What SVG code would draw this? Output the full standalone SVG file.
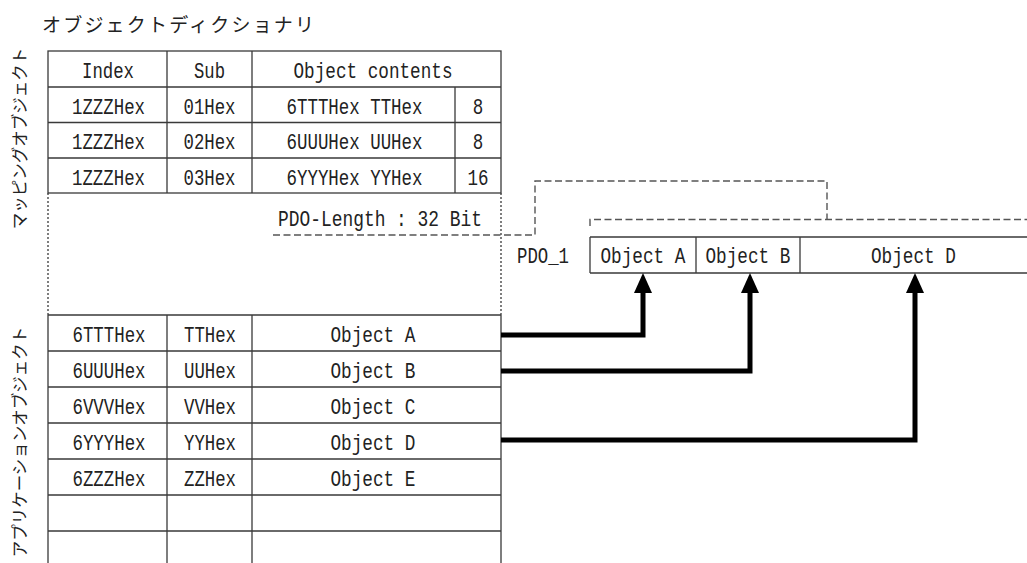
<svg xmlns="http://www.w3.org/2000/svg" width="1027" height="563" viewBox="0 0 1027 563">
  <style>
    .bg { fill: #ffffff; }
    .grid { stroke: #3a3a3a; stroke-width: 1.3; fill: none; }
    .dot { stroke: #3a3a3a; stroke-width: 1.3; fill: none; stroke-dasharray: 2 2; }
    .dash { stroke: #555555; stroke-width: 1.4; fill: none; stroke-dasharray: 7 3.5; }
    .t { font-family: "Liberation Mono", "DejaVu Sans Mono", monospace; font-size: 22px; fill: #222222; text-anchor: middle; }
    .ts { font-family: "Liberation Mono", "DejaVu Sans Mono", monospace; font-size: 22px; fill: #222222; }
    .jp { font-family: "Noto Sans CJK JP", "Noto Sans", sans-serif; fill: #222222; }
    .title { font-size: 19px; letter-spacing: 2.2px; }
    .vlab { font-size: 16.5px; letter-spacing: 0px; text-anchor: middle; }
    .conn { stroke: #000000; stroke-width: 5; fill: none; stroke-linejoin: miter; }
  </style>
  <defs>
    <marker id="arrow" viewBox="0 0 20 18" refX="2" refY="9" markerWidth="20" markerHeight="18" markerUnits="userSpaceOnUse" orient="auto">
      <path d="M0,0 L20,9 L0,18 Z" fill="#000000"/>
    </marker>
  </defs>
  <rect class="bg" x="0" y="0" width="1027" height="563"/>

  <g id="title">
    <text class="jp title" x="42" y="31.5">オブジェクトディクショナリ</text>
  </g>

  <g id="label-mapping">
    <text class="jp vlab" transform="translate(25.5,138.5) rotate(-90)">マッピングオブジェクト</text>
  </g>
  <g id="label-application">
    <text class="jp vlab" transform="translate(25.5,442) rotate(-90)">アプリケーションオブジェクト</text>
  </g>

  <g id="mapping-table">
    <rect class="grid" x="48" y="51" width="453" height="142"/>
    <path class="grid" d="M48,87 H501 M48,122.5 H501 M48,158 H501 M167,51 V193 M252,51 V193 M455,87 V193"/>
    <text class="t" x="108" y="77.5" textLength="52" lengthAdjust="spacingAndGlyphs">Index</text>
    <text class="t" x="209.5" y="77.5" textLength="31" lengthAdjust="spacingAndGlyphs">Sub</text>
    <text class="t" x="373" y="77.5" textLength="159" lengthAdjust="spacingAndGlyphs">Object contents</text>
    <text class="t" x="108.5" y="113.5" textLength="73" lengthAdjust="spacingAndGlyphs">1ZZZHex</text>
    <text class="t" x="209.5" y="113.5" textLength="52" lengthAdjust="spacingAndGlyphs">01Hex</text>
    <text class="t" x="354.5" y="113.5" textLength="136" lengthAdjust="spacingAndGlyphs">6TTTHex TTHex</text>
    <text class="t" x="478" y="113.5" textLength="10.5" lengthAdjust="spacingAndGlyphs">8</text>
    <text class="t" x="108.5" y="149" textLength="73" lengthAdjust="spacingAndGlyphs">1ZZZHex</text>
    <text class="t" x="209.5" y="149" textLength="52" lengthAdjust="spacingAndGlyphs">02Hex</text>
    <text class="t" x="354.5" y="149" textLength="136" lengthAdjust="spacingAndGlyphs">6UUUHex UUHex</text>
    <text class="t" x="478" y="149" textLength="10.5" lengthAdjust="spacingAndGlyphs">8</text>
    <text class="t" x="108.5" y="184.5" textLength="73" lengthAdjust="spacingAndGlyphs">1ZZZHex</text>
    <text class="t" x="209.5" y="184.5" textLength="52" lengthAdjust="spacingAndGlyphs">03Hex</text>
    <text class="t" x="354.5" y="184.5" textLength="136" lengthAdjust="spacingAndGlyphs">6YYYHex YYHex</text>
    <text class="t" x="478" y="184.5" textLength="21" lengthAdjust="spacingAndGlyphs">16</text>
  </g>

  <g id="mapping-gap">
    <path class="dot" d="M48,193 V315 M501,193 V315"/>
    <text class="ts" x="278" y="226" textLength="204" lengthAdjust="spacingAndGlyphs">PDO-Length : 32 Bit</text>
  </g>

  <g id="application-table">
    <path class="grid" d="M48,315 H501 M48,351 H501 M48,387 H501 M48,423 H501 M48,459 H501 M48,495 H501 M48,531 H501 M48,315 V563 M167,315 V563 M252,315 V563 M501,315 V563"/>
    <text class="t" x="109" y="342" textLength="73" lengthAdjust="spacingAndGlyphs">6TTTHex</text>
    <text class="t" x="210" y="342" textLength="52" lengthAdjust="spacingAndGlyphs">TTHex</text>
    <text class="t" x="373" y="342" textLength="85" lengthAdjust="spacingAndGlyphs">Object A</text>
    <text class="t" x="109" y="378" textLength="73" lengthAdjust="spacingAndGlyphs">6UUUHex</text>
    <text class="t" x="210" y="378" textLength="52" lengthAdjust="spacingAndGlyphs">UUHex</text>
    <text class="t" x="373" y="378" textLength="85" lengthAdjust="spacingAndGlyphs">Object B</text>
    <text class="t" x="109" y="414" textLength="73" lengthAdjust="spacingAndGlyphs">6VVVHex</text>
    <text class="t" x="210" y="414" textLength="52" lengthAdjust="spacingAndGlyphs">VVHex</text>
    <text class="t" x="373" y="414" textLength="85" lengthAdjust="spacingAndGlyphs">Object C</text>
    <text class="t" x="109" y="450" textLength="73" lengthAdjust="spacingAndGlyphs">6YYYHex</text>
    <text class="t" x="210" y="450" textLength="52" lengthAdjust="spacingAndGlyphs">YYHex</text>
    <text class="t" x="373" y="450" textLength="85" lengthAdjust="spacingAndGlyphs">Object D</text>
    <text class="t" x="109" y="486" textLength="73" lengthAdjust="spacingAndGlyphs">6ZZZHex</text>
    <text class="t" x="210" y="486" textLength="52" lengthAdjust="spacingAndGlyphs">ZZHex</text>
    <text class="t" x="373" y="486" textLength="85" lengthAdjust="spacingAndGlyphs">Object E</text>
  </g>

  <g id="pdo-brackets">
    <path class="dash" d="M273,235 H535 V181 H827 V219.5"/>
    <path class="dash" d="M590,226 V219.5 H1027"/>
  </g>

  <g id="pdo1">
    <text class="ts" x="517" y="263" textLength="52" lengthAdjust="spacingAndGlyphs">PDO_1</text>
    <path class="grid" d="M590,237 H1027 M590,273 H1027 M590,237 V273 M696,237 V273 M800,237 V273"/>
    <text class="t" x="643" y="263" textLength="85" lengthAdjust="spacingAndGlyphs">Object A</text>
    <text class="t" x="748" y="263" textLength="85" lengthAdjust="spacingAndGlyphs">Object B</text>
    <text class="t" x="913.5" y="263" textLength="85" lengthAdjust="spacingAndGlyphs">Object D</text>
  </g>

  <g id="connectors">
    <path class="conn" d="M501,335 H643 V291" marker-end="url(#arrow)"/>
    <path class="conn" d="M501,371 H750 V291" marker-end="url(#arrow)"/>
    <path class="conn" d="M501,440 H915 V291" marker-end="url(#arrow)"/>
  </g>
</svg>
